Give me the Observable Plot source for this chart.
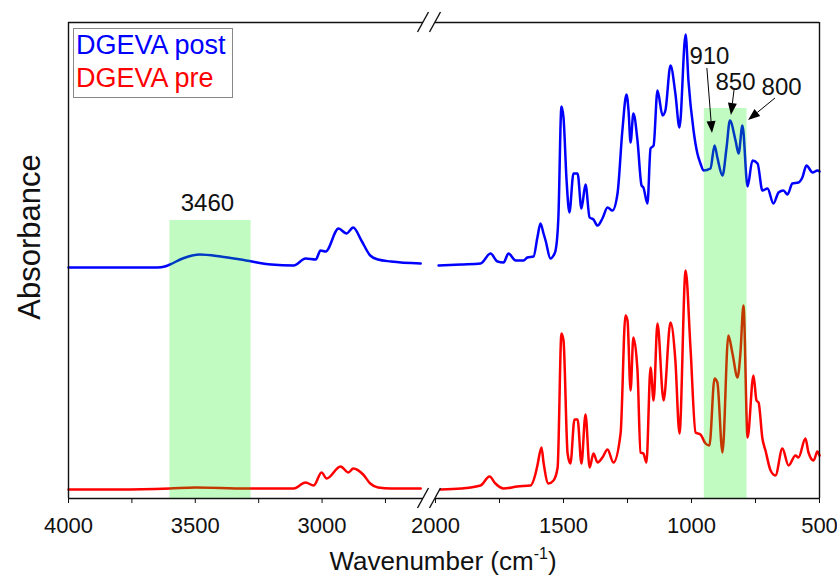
<!DOCTYPE html>
<html><head><meta charset="utf-8">
<script src="https://cdn.jsdelivr.net/npm/d3@7"></script>
<script src="https://cdn.jsdelivr.net/npm/@observablehq/plot@0.6"></script>
<style>
body{margin:0;background:#fff;font-family:"Liberation Sans",Arial,sans-serif;}
#wrap{position:relative;width:837px;height:580px;overflow:hidden;background:#fff;}
#wrap svg{position:absolute;top:0;overflow:visible;}
.legend{position:absolute;left:73px;top:28px;width:160px;height:70px;border:1.3px solid #888;box-sizing:border-box;font-size:27px;line-height:33px;padding:0 0 0 2px;background:#fff;white-space:nowrap;}
.xtitle{position:absolute;left:0;width:886px;top:547px;text-align:center;font-size:26px;line-height:1.1;color:#111;white-space:nowrap;}
.xtitle sup{font-size:16px;vertical-align:11px;line-height:0;}
.ytitle{position:absolute;left:30px;top:237px;transform:translate(-50%,-50%) rotate(-90deg);font-size:31px;white-space:nowrap;color:#111;}
</style></head><body><div id="wrap"></div>
<script>
// ---- data (wavenumber cm^-1, absorbance a.u. with offset) ----
const postWn = [4000,3800,3650,3620,3600,3550,3483,3400,3300,3200,3112,3065,3025,3006,2986,2935,2904,2877,2845,2810,2779,2728,2611,
  1988,1900,1824,1785,1758,1734,1715,1687,1656,1641,1617,1602,1590,1578,1570,1551,1539,1531,1520,1508,1500,1488,1477,1461,1445,1430,1414,1398,1383,1367,1348,1328,1309,1289,1270,1254,1246,1238,1227,1211,1195,1188,1172,1160,1148,1133,1113,1102,1082,1063,1047,1023,1012,992,977,965,953,926,910,899,879,863,850,828,816,801,781,762,742,723,703,680,660,641,625,606,582,567,551,527,508,500];
const postAbs = [2.31,2.31,2.31,2.32,2.34,2.40,2.44,2.42,2.38,2.34,2.33,2.40,2.39,2.48,2.47,2.70,2.65,2.71,2.58,2.43,2.39,2.37,2.35,
  2.33,2.34,2.35,2.45,2.37,2.36,2.45,2.38,2.38,2.41,2.42,2.61,2.75,2.65,2.58,2.40,2.43,2.48,2.81,3.92,3.81,3.18,2.86,3.25,3.25,2.90,3.14,2.81,2.79,2.73,2.80,2.91,2.88,3.05,3.68,4.04,3.88,3.56,3.85,3.58,3.13,3.11,2.95,3.50,3.53,4.08,3.83,3.88,4.33,4.05,3.71,4.64,4.18,3.68,3.45,3.35,3.28,3.30,3.53,3.41,3.23,3.51,3.78,3.58,3.45,3.73,3.12,3.38,3.35,3.08,3.10,2.95,3.06,3.08,3.04,3.15,3.16,3.21,3.33,3.26,3.28,3.27];
const preWn = [4000,3800,3600,3500,3300,3112,3065,3033,3002,2982,2927,2896,2877,2838,2810,2779,2728,2611,
  1980,1900,1824,1789,1766,1734,1680,1629,1609,1602,1586,1578,1559,1539,1523,1508,1500,1484,1473,1457,1445,1430,1414,1398,1383,1367,1348,1328,1305,1277,1258,1250,1238,1227,1211,1199,1188,1176,1160,1148,1133,1109,1082,1063,1047,1023,1004,984,965,945,930,910,899,879,856,840,820,809,797,781,758,746,738,723,711,691,672,645,621,594,582,555,543,523,508,500];
const preAbs = [0.09,0.09,0.10,0.11,0.10,0.10,0.16,0.13,0.26,0.20,0.32,0.26,0.30,0.24,0.15,0.11,0.10,0.10,
  0.09,0.10,0.13,0.22,0.15,0.10,0.12,0.13,0.25,0.33,0.51,0.36,0.15,0.18,0.31,1.65,1.58,0.45,0.35,0.79,0.79,0.35,0.84,0.31,0.45,0.36,0.41,0.49,0.36,0.65,1.83,1.78,1.08,1.61,1.28,0.46,0.45,0.36,1.31,0.98,1.75,0.98,1.76,1.38,0.65,2.28,1.51,0.66,0.64,0.55,0.53,1.20,1.16,0.46,1.63,1.45,1.21,1.45,1.93,0.61,1.23,0.98,0.96,0.60,0.48,0.28,0.23,0.50,0.33,0.43,0.41,0.60,0.46,0.38,0.47,0.43];
const seriesNames = ["DGEVA post", "DGEVA pre"];
const seriesColors = ["#0000ff", "#ff0000"];
const leftDomain = [4000, 2600];
const rightDomain = [2000, 500];
const yDomain = [0, 4.76];
const leftTicks = [4000, 3750, 3500, 3250, 3000, 2750];
const rightTicks = [2000, 1750, 1500, 1250, 1000, 750, 500];
const bandX1 = [3600, 950];
const bandX2 = [3280, 783];
const bandTop = [2.78, 3.90];
const labelText = ["3460", "910", "850", "800"];
const labelX = [3452, 930, 828, 648];
const labelY = [2.88, 4.35, 4.09, 4.04];
const arrowFromX = [938, 832, 672];
const arrowFromY = [4.30, 4.08, 4.00];
const arrowToX = [918, 844, 777];
const arrowToY = [3.65, 3.83, 3.78];

// ---- build tables ----
const rows = [];
[[postWn, postAbs], [preWn, preAbs]].forEach(([wn, ab], i) =>
  wn.forEach((w, j) => rows.push({series: seriesNames[i], wn: w, abs: ab[j]})));
const leftRows = rows.filter(d => d.wn >= 2600);
const rightRows = rows.filter(d => d.wn <= 2000);
const bands = bandX1.map((x1, i) => ({x1, x2: bandX2[i], top: bandTop[i]}));
const labels = labelText.map((t, i) => ({t, x: labelX[i], y: labelY[i]}));
const arrows = arrowFromX.map((x1, i) => ({x1, y1: arrowFromY[i], x2: arrowToX[i], y2: arrowToY[i]}));

function arrowMark(data) {
  return (index, scales) => {
    const g = d3.create("svg:g");
    for (const a of data) {
      const x1 = scales.x(a.x1), y1 = scales.y(a.y1), x2 = scales.x(a.x2), y2 = scales.y(a.y2);
      const ang = Math.atan2(y2 - y1, x2 - x1), L = 12, W = 4.5;
      const bx = x2 - L * Math.cos(ang), by = y2 - L * Math.sin(ang);
      g.append("line").attr("x1", x1).attr("y1", y1).attr("x2", bx).attr("y2", by)
        .attr("stroke", "#000").attr("stroke-width", 1);
      const px = -Math.sin(ang) * W, py = Math.cos(ang) * W;
      g.append("path").attr("d", `M${x2},${y2}L${bx + px},${by + py}L${bx - px},${by - py}Z`).attr("fill", "#000");
    }
    return g.node();
  };
}
function breakMark(xv) {
  return (index, scales) => {
    const g = d3.create("svg:g");
    const x = scales.x(xv);
    for (const yv of yDomain) {
      const y = scales.y(yv);
      g.append("line").attr("x1", x - 5.5).attr("y1", y + 10).attr("x2", x + 5.5).attr("y2", y - 10)
        .attr("stroke", "#111").attr("stroke-width", 1.4);
    }
    return g.node();
  };
}

function panel(domain, ticks, data, frameX, breakX, width, mL, mR, extra) {
  return Plot.plot({
    width, height: 580, marginTop: 22, marginBottom: 82, marginLeft: mL, marginRight: mR,
    style: {overflow: "visible", fontFamily: "Liberation Sans, Arial, sans-serif", background: "transparent"},
    x: {domain, axis: null},
    y: {domain: yDomain, axis: null},
    color: {domain: seriesNames, range: seriesColors},
    marks: [
      Plot.line(data, {x: "wn", y: "abs", z: "series", stroke: "series", strokeWidth: 2.5, curve: "monotone-x"}),
      Plot.rect(bands.filter(b => b.x1 <= domain[0] && b.x2 >= domain[1]), {x1: "x1", x2: "x2", y1: 0, y2: "top", fill: "#00ee00", fillOpacity: 0.24}),
      Plot.ruleY(yDomain, {x1: domain[0], x2: domain[1], stroke: "#111", strokeWidth: 1.4}),
      Plot.ruleX([frameX], {y1: yDomain[0], y2: yDomain[1], stroke: "#111", strokeWidth: 1.4}),
      Plot.axisX(ticks, {anchor: "bottom", tickSize: 5, tickPadding: 14, fontSize: 22, stroke: "#111", fill: "#111",
        tickFormat: d => d % 500 === 0 ? String(d) : ""}),
      Plot.text(labels.filter(l => l.x <= domain[0] && l.x >= domain[1]), {x: "x", y: "y", text: "t", fontSize: 24, fill: "#111", lineAnchor: "bottom"}),
      breakMark(breakX),
      ...extra
    ]
  });
}

const wrap = document.getElementById("wrap");
const left = panel(leftDomain, leftTicks, leftRows, 4000, 2600, 430, 68, 7, []);
const right = panel(rightDomain, rightTicks, rightRows, 500, 2000, 409, 7, 18, [arrowMark(arrows)]);
left.style.left = "0px";
right.style.left = "428px";
wrap.appendChild(left);
wrap.appendChild(right);

const legend = document.createElement("div");
legend.className = "legend";
legend.innerHTML = seriesNames.map((n, i) => `<div style="color:${seriesColors[i]}">${n}</div>`).join("");
wrap.appendChild(legend);
const xt = document.createElement("div");
xt.className = "xtitle";
xt.innerHTML = "Wavenumber (cm<sup>-1</sup>)";
wrap.appendChild(xt);
const yt = document.createElement("div");
yt.className = "ytitle";
yt.textContent = "Absorbance";
wrap.appendChild(yt);
</script></body></html>
